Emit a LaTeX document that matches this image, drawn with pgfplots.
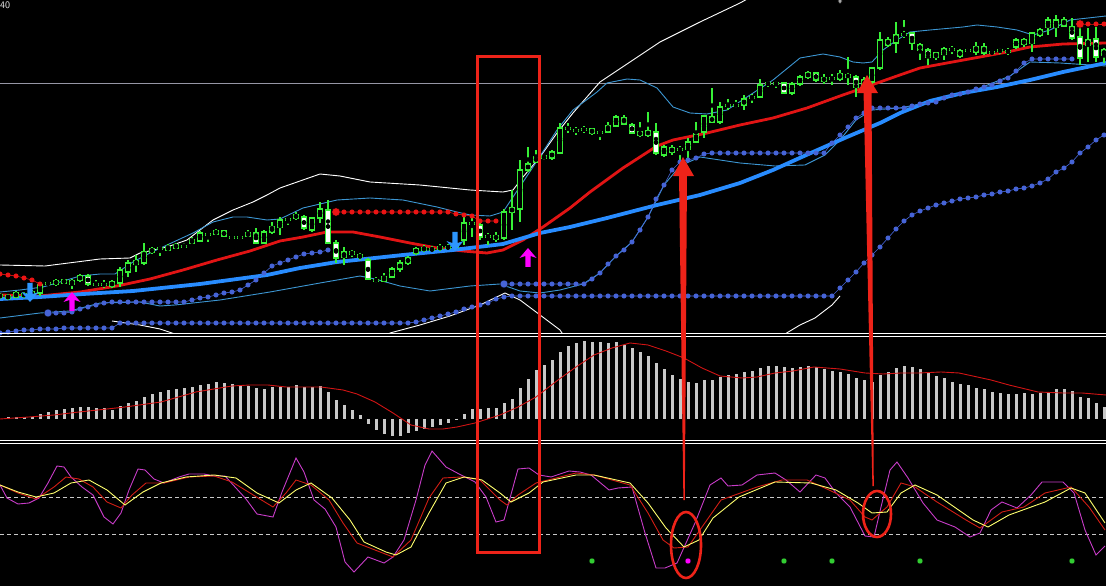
\documentclass[border=0pt]{standalone}
\usepackage{pgfplots}
\pgfplotsset{compat=1.18}
\usepackage{pgfplotstable}
\definecolor{cgreen}{RGB}{55,240,55}
\definecolor{cband}{RGB}{60,150,210}
\definecolor{cma}{RGB}{225,20,20}
\definecolor{cmab}{RGB}{40,140,255}
\definecolor{cdot}{RGB}{70,100,215}
\definecolor{cdotr}{RGB}{235,20,20}
\definecolor{cred}{RGB}{238,35,25}
\definecolor{chist}{RGB}{200,200,200}
\definecolor{csig}{RGB}{210,20,20}
\definecolor{cmag}{RGB}{200,60,200}
\definecolor{cyel}{RGB}{255,255,110}
\definecolor{cstr}{RGB}{210,30,20}
\definecolor{cgrid}{RGB}{150,150,165}
\definecolor{cdash}{RGB}{200,200,200}
\definecolor{cgdot}{RGB}{50,205,50}
\definecolor{carrb}{RGB}{45,150,255}
\definecolor{carrm}{RGB}{255,0,255}

\pgfdeclareplotmark{uparr}{%
 \pgfpathmoveto{\pgfpoint{0pt}{10pt}}%
 \pgfpathlineto{\pgfpoint{8.5pt}{0pt}}%
 \pgfpathlineto{\pgfpoint{2.7pt}{2pt}}%
 \pgfpathlineto{\pgfpoint{2.7pt}{-9pt}}%
 \pgfpathlineto{\pgfpoint{-2.7pt}{-9pt}}%
 \pgfpathlineto{\pgfpoint{-2.7pt}{2pt}}%
 \pgfpathlineto{\pgfpoint{-8.5pt}{0pt}}%
 \pgfpathclose\pgfusepathqfill}
\pgfdeclareplotmark{downarr}{%
 \pgfpathmoveto{\pgfpoint{0pt}{-10pt}}%
 \pgfpathlineto{\pgfpoint{8.5pt}{0pt}}%
 \pgfpathlineto{\pgfpoint{2.7pt}{-2pt}}%
 \pgfpathlineto{\pgfpoint{2.7pt}{9pt}}%
 \pgfpathlineto{\pgfpoint{-2.7pt}{9pt}}%
 \pgfpathlineto{\pgfpoint{-2.7pt}{-2pt}}%
 \pgfpathlineto{\pgfpoint{-8.5pt}{0pt}}%
 \pgfpathclose\pgfusepathqfill}

\pgfplotsset{panel/.style={scale only axis, width=1106pt, xmin=0, xmax=1106, hide axis, anchor=south west}}

\pgfplotstableread{
x bt bb wh wl t
0 295 297 293 299 0
8 296 298 294 300 0
16 293 297 291 298 0
24 294 296 292 298 0
32 292 295 290 297 0
40 285 293 283 296 0
48 283 284 281 286 0
56 281 284 279 286 0
64 280 283 279 284 1
72 281 284 279 289 0
80 276 280 274 282 0
88 276 284 274 286 1
96 284 285 280 287 0
104 284 285 280 288 0
112 282 286 280 288 0
120 270 283 267 287 0
128 263 272 260 277 0
136 261 264 255 272 0
144 252 263 243 265 0
152 249 252 247 254 0
160 248 249 246 256 0
168 247 250 244 251 0
176 245 248 243 249 0
184 246 247 243 248 0
192 240 243 237 244 0
200 233 241 231 242 0
208 234 235 233 242 0
216 231 234 229 235 0
224 231 236 230 237 1
232 237 238 235 239 0
240 237 238 235 240 0
248 233 236 230 237 0
256 233 243 228 243 1
264 232 243 230 244 0
272 227 232 222 234 0
280 220 227 217 235 0
288 219 220 218 225 0
296 215 218 212 220 0
304 217 228 215 230 1
312 218 230 217 232 0
320 209 218 202 223 0
328 210 243 200 243 1
336 243 258 240 263 1
344 252 257 247 265 0
352 252 254 250 257 1
360 255 257 253 260 0
368 260 279 258 280 1
376 280 281 277 283 0
384 277 281 273 282 0
392 269 277 267 278 0
400 263 269 260 272 0
408 258 263 256 265 0
416 249 253 247 255 0
424 248 250 245 252 0
432 249 250 246 252 0
440 247 249 244 251 0
448 247 248 244 250 0
456 245 247 242 249 0
464 223 240 215 245 0
472 223 224 215 237 0
480 225 237 222 240 1
488 236 237 233 245 0
496 236 239 232 242 1
504 212 238 209 240 0
512 208 212 190 230 0
520 170 209 160 222 0
528 164 170 147 172 0
536 157 162 150 163 0
544 156 158 155 160 1
552 152 158 150 160 0
560 128 153 123 154 0
568 128 129 123 133 0
576 130 131 127 135 0
584 129 130 126 133 0
592 129 133 128 135 1
600 132 133 130 140 0
608 126 132 122 133 0
616 117 126 115 127 0
624 118 124 115 125 1
632 125 133 123 134 1
640 132 135 122 137 1
648 131 135 112 137 0
656 132 153 123 155 1
664 147 155 145 157 0
672 148 152 145 155 1
680 149 150 146 160 0
688 142 149 138 160 0
696 134 142 122 143 0
704 116 132 115 138 0
712 117 122 88 123 1
720 107 122 102 124 0
728 105 106 99 110 0
736 105 106 100 108 0
744 99 105 95 110 0
752 97 98 94 103 0
760 85 97 79 98 0
768 83 84 81 87 0
776 83 84 81 88 0
784 83 93 82 94 1
792 84 93 82 95 0
800 77 84 75 86 0
808 73 77 71 79 0
816 73 80 72 82 1
824 78 81 74 84 0
832 78 79 74 85 0
840 74 79 70 81 0
848 75 77 57 85 0
856 77 87 75 97 1
864 80 85 77 92 0
872 68 82 67 84 0
880 40 68 32 70 0
888 40 45 37 47 1
896 35 43 22 53 0
904 34 35 20 38 0
912 33 43 32 50 1
920 45 50 43 60 1
928 50 57 48 65 1
936 53 57 52 60 0
944 49 54 47 60 0
952 49 50 46 54 0
960 51 56 49 58 0
968 50 51 48 53 0
976 47 52 42 55 0
984 47 53 43 55 1
992 52 53 50 55 0
1000 50 51 48 54 0
1008 51 52 48 55 0
1016 40 47 38 49 0
1024 40 44 38 47 1
1032 33 43 32 52 0
1040 30 35 28 37 0
1048 20 27 17 35 0
1056 20 27 15 37 0
1064 20 26 17 27 1
1072 27 38 18 40 1
1080 37 58 27 65 1
1088 40 45 28 62 0
1096 39 57 27 62 1
1104 50 55 48 63 0
}\candles

\pgfplotstableread{
x v
8 1.7
16 1.7
24 1.7
32 2
40 5
48 7.3
56 9
64 10
72 10.7
80 11.7
88 11.7
96 10.7
104 10.7
112 9
120 13
128 16.3
136 18
144 22.3
152 25
160 27
168 29
176 30
184 30.7
192 31.7
200 34
208 35
216 37
224 36
232 35
240 33.3
248 33
256 31
264 29.7
272 31.7
280 32.3
288 32
296 34
304 32.3
312 31.7
320 33
328 27.3
336 19
344 14
352 9
360 4
368 -5
376 -11
384 -15
392 -16.7
400 -17
408 -14.3
416 -11.7
424 -10.3
432 -7.7
440 -6
448 -4.3
456 -1
464 5
472 10
480 10
488 10.7
496 10.7
504 16.3
512 19.7
520 30.7
528 39.7
536 49
544 54
552 59
560 66.7
568 73
576 75.7
584 78
592 77
600 77
608 76.3
616 77
624 74
632 70.7
640 66.7
648 63
656 55.7
664 49.7
672 44
680 39.7
688 37.3
696 35.7
704 39
712 39
720 42.3
728 44
736 45
744 46.7
752 48
760 50.7
768 53
776 53
784 51.7
792 50.7
800 52.3
808 53
816 51.7
824 49.7
832 48
840 47.3
848 45
856 40.7
864 39
872 37
880 44
888 46.7
896 50.7
904 53
912 51.7
920 49.7
928 46.3
936 43
944 40.7
952 37.3
960 35
968 34
976 30.7
984 29.7
992 27.3
1000 25.7
1008 25
1016 25
1024 25.7
1032 25
1040 26.3
1048 27.3
1056 29.7
1064 29.7
1072 28
1080 22.3
1088 20.7
1096 15.7
1104 11.7
}\macd

\begin{document}
\begin{tikzpicture}
\path[use as bounding box] (0pt,0pt) rectangle (1106pt,586pt);
\fill[black] (-12pt,-12pt) rectangle (1118pt,598pt);

% ---------- top price panel ----------
\begin{axis}[panel, height=334pt, at={(0pt,252pt)}, ymin=0, ymax=334, y dir=reverse]
\addplot[cgrid, line width=0.9pt] coordinates {(0,83)(1106,83)};
% outer (white) bands
\addplot[white, line width=0.9pt] coordinates {(0,265)(45,266)(100,259)(130,258)(140,253)(167,247)(187,240)(200,230)(213,220)(233,210)(253,202)(267,195)(280,188)(300,181)(320,174)(340,176)(370,182)(420,185)(470,190)(503,192)(513,190)(523,177)(540,157)(557,133)(573,113)(593,90)(600,82)(630,62)(660,42)(700,22)(740,3)(760,-8)};
\addplot[white, line width=0.9pt] coordinates {(112,321)(140,325)(160,329)(175,334)(185,345)};
\addplot[white, line width=0.9pt] coordinates {(375,345)(390,333)(420,325)(450,316)(480,305)(505,293)(520,300)(540,315)(560,330)(570,345)};
\addplot[white, line width=0.9pt] coordinates {(775,345)(785,334)(800,325)(815,318)(832,305)(840,296)};
% inner (blue) bands
\addplot[cband, line width=0.9pt] coordinates {(0,292)(20,290)(43,287)(50,285)(80,276)(100,274)(115,274)(133,262)(150,253)(167,245)(193,233)(213,222)(233,217)(247,217)(267,220)(280,219)(303,208)(337,200)(370,198)(403,200)(437,207)(457,212)(470,215)(490,216)(503,212)(513,197)(533,167)(557,130)(573,110)(597,92)(607,83)(627,79)(640,80)(657,88)(673,107)(690,113)(707,114)(727,110)(747,97)(773,80)(800,58)(823,54)(840,57)(853,62)(863,63)(872,62)(883,50)(897,40)(910,32)(930,30)(963,27)(977,25)(997,27)(1017,30)(1033,35)(1050,30)(1070,20)(1106,16)};
\addplot[cband, line width=0.9pt] coordinates {(0,318)(40,313)(70,311)(100,303)(140,302)(160,306)(175,305)(220,300)(270,292)(320,283)(360,276)(375,279)(400,286)(430,291)(470,286)(500,284)(520,291)(540,293)(560,290)(583,284)(600,273)(616,256)(632,242)(648,217)(664,185)(680,166)(700,157)(740,163)(775,166)(805,165)(825,155)(840,140)(856,120)(872,110)(900,108)(940,100)(980,88)(1010,76)(1030,62)(1060,63)(1106,66)};
% moving averages
\addplot[cma, line width=2.8pt] coordinates {(0,295)(40,296)(80,292)(117,286)(150,279)(183,270)(217,260)(250,251)(280,241)(303,237)(327,232)(353,232)(380,237)(410,243)(437,248)(463,251)(487,253)(503,250)(523,240)(543,227)(570,208)(590,192)(623,168)(657,146)(673,140)(707,133)(740,125)(773,118)(807,108)(840,96)(863,88)(897,76)(920,68)(947,63)(980,57)(1007,52)(1030,47)(1063,44)(1106,43)};
\addplot[cmab, line width=3.8pt] coordinates {(0,299)(40,297)(83,294)(133,291)(200,284)(267,275)(300,268)(337,262)(403,255)(453,250)(503,244)(540,233)(570,227)(607,218)(657,205)(700,195)(740,183)(773,170)(813,152)(847,137)(880,123)(900,113)(930,101)(963,93)(997,87)(1030,80)(1063,72)(1106,63)};
% dotted stop lines (blue)
\addplot[cdot, line width=0.6pt, mark=*, mark size=2.2pt, mark options={fill=cdot, draw=none}] coordinates {(0,333)(8,332)(16,331)(24,330)(32,330)(40,329)(48,329)(56,329)(64,328)(72,328)(80,328)(88,328)(96,328)(104,328)(112,328)(120,323)(128,323)(136,323)(144,323)(152,323)(160,323)(168,323)(176,323)(184,323)(192,323)(200,323)(208,323)(216,323)(224,323)(232,323)(240,323)(248,323)(256,323)(264,323)(272,323)(280,323)(288,323)(296,323)(304,323)(312,323)(320,323)(328,323)(336,323)(344,323)(352,323)(360,323)(368,323)(376,323)(384,323)(392,323)(400,323)(408,323)(416,322)(424,320)(432,318)(440,316)(448,314)(456,312)(464,309)(472,307)(480,305)(488,303)(496,299)(504,297)(512,296)(520,296)(528,296)(536,296)(544,296)(552,296)(560,296)(568,296)(576,296)(584,296)(592,296)(600,296)(608,296)(616,296)(624,296)(632,296)(640,296)(648,296)(656,296)(664,296)(672,296)(680,296)(688,296)(696,296)(704,296)(712,296)(720,296)(728,296)(736,296)(744,296)(752,296)(760,296)(768,296)(776,296)(784,296)(792,296)(800,296)(808,296)(816,296)(824,296)(832,296)(840,288)(848,280)(856,272)(864,263)(872,255)(880,247)(888,238)(896,229)(904,221)(912,215)(920,211)(928,208)(936,205)(944,203)(952,201)(960,199)(968,198)(976,197)(984,195)(992,194)(1000,192)(1008,191)(1016,189)(1024,188)(1032,186)(1040,183)(1048,179)(1056,172)(1064,168)(1072,162)(1080,153)(1088,147)(1096,140)(1104,135)};
\addplot[cdot, line width=0.6pt, mark=*, mark size=2.2pt, mark options={fill=cdot, draw=none}] coordinates {(48,313)(56,313)(64,313)(72,312)(80,309)(88,307)(96,305)(104,303)(112,302)(120,302)(128,302)(136,302)(144,302)(152,302)(160,302)(168,302)(176,302)(184,302)(192,300)(200,298)(208,297)(216,295)(224,293)(232,292)(240,290)(248,285)(256,280)(264,273)(272,266)(280,263)(288,260)(296,257)(304,254)(312,253)(320,252)(328,250)};
\addplot[cdot, line width=0.6pt, mark=*, mark size=2.2pt, mark options={fill=cdot, draw=none}] coordinates {(504,284)(512,284)(520,284)(528,284)(536,284)(544,284)(552,284)(560,284)(568,284)(576,284)(584,284)(592,279)(600,273)(608,264)(616,256)(624,250)(632,242)(640,230)(648,217)(656,199)(664,185)(672,170)(680,162)(688,160)(696,158)(704,154)(712,153)(720,153)(728,153)(736,153)(744,153)(752,153)(760,153)(768,153)(776,153)(784,153)(792,153)(800,153)(808,153)(816,153)(824,153)(832,143)(840,135)(848,127)(856,118)(864,113)(872,108)(880,108)(888,108)(896,108)(904,108)(912,106)(920,104)(928,103)(936,102)(944,98)(952,95)(960,94)(968,92)(976,89)(984,87)(992,85)(1000,81)(1008,78)(1016,71)(1024,63)(1032,59)(1040,59)(1048,59)(1056,59)(1064,59)(1072,59)};
\addplot[only marks, mark=*, mark size=4pt, mark options={fill=cdot, draw=none}] coordinates {(48,313)(504,284)};
% dotted stop lines (red)
\addplot[cdotr, line width=0.6pt, mark=*, mark size=2.2pt, mark options={fill=cdotr, draw=none}] coordinates {(0,274)(8,275)(16,276)(24,278)(32,280)(40,284)};
\addplot[cdotr, line width=0.6pt, mark=*, mark size=2.2pt, mark options={fill=cdotr, draw=none}] coordinates {(336,212)(344,212)(352,212)(360,212)(368,212)(376,212)(384,212)(392,212)(400,212)(408,212)(416,212)(424,212)(432,212)(440,212)(448,212)(456,214)(464,215)(472,216)(480,221)(488,221)(496,221)};
\addplot[cdotr, line width=0.6pt, mark=*, mark size=2.2pt, mark options={fill=cdotr, draw=none}] coordinates {(1080,24)(1088,24)(1096,24)(1104,24)};
\addplot[only marks, mark=*, mark size=4.2pt, mark options={fill=cdotr, draw=none}] coordinates {(336,212)(1080,24)};
% candles: wicks
\addplot[only marks, mark=none, error bars/.cd, y dir=both, y explicit, error mark=none, error bar style={draw=cgreen, line width=1.1pt}]
 table[x=x, y expr={(\thisrow{wh}+\thisrow{wl})/2}, y error expr={(\thisrow{wl}-\thisrow{wh})/2}] {\candles};
% candles: body outlines
\addplot[only marks, mark=none, error bars/.cd, y dir=both, y explicit, error mark=none, error bar style={draw=cgreen, line width=5.6pt}]
 table[x=x, y expr={(\thisrow{bt}+\thisrow{bb})/2}, y error expr={(\thisrow{bb}-\thisrow{bt})/2+0.6}] {\candles};
% candles: body fills
\addplot[only marks, mark=none, restrict expr to domain={\thisrow{t}}{-0.5:0.5}, error bars/.cd, y dir=both, y explicit, error mark=none, error bar style={draw=black, line width=3.2pt}]
 table[x=x, y expr={(\thisrow{bt}+\thisrow{bb})/2}, y error expr={max((\thisrow{bb}-\thisrow{bt})/2-0.6,0)}] {\candles};
\addplot[only marks, mark=none, restrict expr to domain={\thisrow{t}}{0.5:1.5}, error bars/.cd, y dir=both, y explicit, error mark=none, error bar style={draw=white, line width=3.2pt}]
 table[x=x, y expr={(\thisrow{bt}+\thisrow{bb})/2}, y error expr={max((\thisrow{bb}-\thisrow{bt})/2-0.6,0)}] {\candles};
% signal arrows
\addplot[only marks, mark=downarr, mark options={scale=1.0}, carrb] coordinates {(30,292)(455,241)};
\addplot[only marks, mark=uparr, mark options={scale=1.0}, carrm] coordinates {(72,302)(528,258)};
\addplot[only marks, mark=diamond*, mark size=3pt, mark options={fill=gray!70, draw=none}] coordinates {(840,1)};
\end{axis}

% ---------- MACD panel ----------
\begin{axis}[panel, height=103pt, at={(0pt,146pt)}, ymin=-21, ymax=82]
\addplot[ycomb, draw=chist, line width=3pt, mark=none] table[x=x, y=v] {\macd};
\addplot[csig, line width=0.9pt] coordinates {(0,0)(29,2)(54,4)(79,7)(107,10)(125,12)(161,17)(196,27)(232,33)(250,34)(268,34)(286,32)(321,32)(343,29)(357,25)(375,17)(393,6)(411,-6)(429,-10)(443,-10)(457,-8)(475,-4)(500,4)(518,12)(536,22)(558,39)(576,52)(594,64)(612,71)(630,76)(648,74)(666,68)(684,61)(702,51)(720,43)(742,41)(757,42)(775,46)(793,48)(814,52)(840,50)(865,46)(883,45)(901,46)(919,46)(941,47)(959,46)(991,39)(1009,34)(1038,27)(1063,26)(1082,26)(1106,24)};
\end{axis}

% ---------- stochastic panel ----------
\begin{axis}[panel, height=142pt, at={(0pt,0pt)}, ymin=444, ymax=586, y dir=reverse]
\addplot[cdash, line width=0.8pt, dash pattern=on 4pt off 3pt] coordinates {(0,497)(1106,497)};
\addplot[cdash, line width=0.8pt, dash pattern=on 4pt off 3pt] coordinates {(0,534)(1106,534)};
\addplot[cmag, line width=0.9pt] coordinates {(0,485)(7,498)(18,504)(29,503)(39,498)(48,483)(57,466)(64,467)(71,477)(82,487)(93,495)(104,517)(113,524)(121,513)(129,490)(138,469)(145,470)(154,479)(164,483)(179,477)(189,474)(204,474)(214,476)(225,476)(236,488)(246,499)(257,514)(273,517)(282,492)(296,458)(304,472)(314,500)(325,509)(336,527)(345,562)(354,572)(368,557)(384,563)(393,557)(404,540)(416,500)(425,465)(432,451)(446,467)(461,475)(475,482)(486,497)(496,522)(504,520)(518,469)(529,468)(539,475)(551,477)(569,471)(580,472)(591,475)(609,490)(618,488)(632,487)(645,533)(656,568)(665,568)(677,563)(695,523)(710,485)(721,478)(728,486)(742,485)(757,475)(775,473)(786,480)(800,492)(816,475)(825,478)(836,493)(850,507)(865,536)(874,537)(881,507)(890,470)(897,462)(908,478)(923,503)(937,520)(955,527)(970,537)(980,533)(991,510)(1002,502)(1017,508)(1031,495)(1042,482)(1053,482)(1063,482)(1074,493)(1085,530)(1096,555)(1105,546)};
\addplot[cstr, line width=0.9pt] coordinates {(0,485)(18,493)(36,499)(54,487)(66,477)(79,479)(93,487)(107,502)(121,508)(132,495)(146,483)(164,483)(189,477)(214,476)(232,482)(250,493)(273,507)(286,493)(296,480)(311,485)(329,500)(343,523)(357,543)(375,550)(393,557)(411,540)(429,498)(443,478)(461,477)(479,479)(500,500)(507,505)(518,495)(536,483)(540,482)(576,473)(594,475)(630,485)(648,513)(663,540)(674,548)(688,547)(702,527)(721,500)(757,487)(782,480)(807,480)(829,490)(850,500)(865,517)(872,520)(887,507)(901,483)(915,487)(937,502)(966,520)(980,528)(1002,512)(1024,507)(1045,493)(1071,487)(1089,507)(1105,530)};
\addplot[cyel, line width=0.9pt] coordinates {(0,485)(18,492)(36,497)(54,493)(71,483)(89,480)(107,490)(125,505)(143,492)(161,483)(186,477)(214,475)(236,478)(257,493)(279,503)(296,490)(311,483)(332,498)(350,520)(364,542)(386,552)(396,555)(411,547)(429,513)(446,483)(464,477)(482,480)(500,493)(511,502)(529,493)(543,482)(576,475)(594,475)(630,483)(648,503)(666,528)(684,547)(699,540)(713,518)(739,497)(775,482)(811,483)(836,490)(858,503)(872,513)(887,512)(901,493)(915,485)(937,495)(973,520)(988,527)(1009,515)(1045,502)(1071,488)(1085,493)(1105,523)};
\addplot[only marks, mark=*, mark size=3pt, mark options={fill=cgdot, draw=none}] coordinates {(592,561)(784,561)(832,561)(920,561)(1072,561)};
\addplot[only marks, mark=*, mark size=3pt, mark options={fill=carrm, draw=none}] coordinates {(688,561)};
\end{axis}

% ---------- overlay: separators and annotations ----------
\begin{axis}[panel, height=586pt, at={(0pt,0pt)}, ymin=0, ymax=586, y dir=reverse, clip=false]
\addplot[white, line width=1pt] coordinates {(0,333.5)(1106,333.5)};
\addplot[white, line width=1pt] coordinates {(0,336.5)(1106,336.5)};
\addplot[white, line width=1pt] coordinates {(0,440.5)(1106,440.5)};
\addplot[white, line width=1pt] coordinates {(0,443.5)(1106,443.5)};
\draw[cred, line width=3pt] (axis cs:477,57) rectangle (axis cs:539,552);
\fill[cred] (axis cs:679,173) -- (axis cs:687,173) -- (axis cs:684.8,500) -- (axis cs:683.4,500) -- cycle;
\fill[cred] (axis cs:673,176) -- (axis cs:683,157) -- (axis cs:694,176) -- cycle;
\fill[cred] (axis cs:863.5,90) -- (axis cs:871.5,90) -- (axis cs:873.8,486) -- (axis cs:872.4,486) -- cycle;
\fill[cred] (axis cs:857,93) -- (axis cs:867,75) -- (axis cs:878,93) -- cycle;
\draw[cred, line width=2.6pt] (axis cs:686,545) ellipse [x radius=15pt, y radius=33pt];
\draw[cred, line width=2.6pt] (axis cs:877,514) ellipse [x radius=14pt, y radius=23pt];
\node[anchor=north west, inner sep=0pt, text=white!85!gray, font=\sffamily\fontsize{10}{10}\selectfont] at (axis cs:0,2) {40};
\end{axis}
\end{tikzpicture}
\end{document}
